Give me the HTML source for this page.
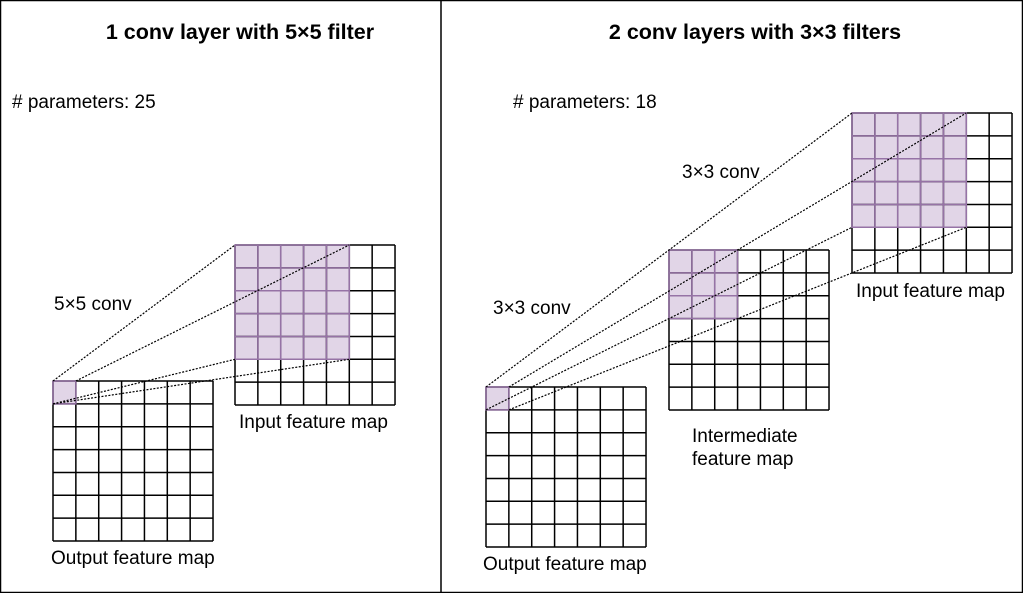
<!DOCTYPE html>
<html><head><meta charset="utf-8"><style>
html,body{margin:0;padding:0;background:#fff}
svg{display:block}
text{font-family:"Liberation Sans",Arial,sans-serif;fill:#000}
</style></head><body>
<svg id="s" width="1023" height="593" viewBox="0 0 1023 593" xmlns="http://www.w3.org/2000/svg">
<rect x="0.5" y="0.5" width="1022" height="592" fill="#fff" stroke="#000" stroke-width="1.5"/>
<line x1="441" y1="0" x2="441" y2="593" stroke="#000" stroke-width="1.5"/>
<text x="240" y="39" font-size="21.5" font-weight="bold" text-anchor="middle">1 conv layer with 5×5 filter</text>
<text x="755" y="39" font-size="21.5" font-weight="bold" text-anchor="middle">2 conv layers with 3×3 filters</text>
<text x="12" y="108" font-size="19">#&#160;parameters: 25</text>
<text x="513" y="108" font-size="19">#&#160;parameters: 18</text>
<text x="54" y="310" font-size="19">5×5 conv</text>
<text x="239" y="428" font-size="19">Input feature map</text>
<text x="51" y="564" font-size="19">Output feature map</text>
<text x="493" y="314" font-size="19">3×3 conv</text>
<text x="682" y="178" font-size="19">3×3 conv</text>
<text x="856" y="297" font-size="19">Input feature map</text>
<text x="692" y="442" font-size="19">Intermediate</text>
<text x="692" y="465" font-size="19">feature map</text>
<text x="483" y="570" font-size="19">Output feature map</text>
<g id="g"></g>
</svg>
<script>
var NS="http://www.w3.org/2000/svg",G=document.getElementById("g");
function el(t,a){var e=document.createElementNS(NS,t);for(var k in a)e.setAttribute(k,a[k]);G.appendChild(e);return e;}
var C=22.86;
function grid(x,y,p){
  if(p){el("rect",{x:x,y:y,width:p*C,height:p*C,fill:"#e1d5e7"});}
  var d="";
  for(var i=0;i<=7;i++){d+="M"+(x+i*C)+" "+y+"V"+(y+7*C);d+="M"+x+" "+(y+i*C)+"H"+(x+7*C);}
  el("path",{d:d,stroke:"#000","stroke-width":1.5,fill:"none"});
  if(p){var d2="";for(var i=1;i<p;i++){d2+="M"+(x+i*C)+" "+y+"V"+(y+p*C);d2+="M"+x+" "+(y+i*C)+"H"+(x+p*C);}
    el("path",{d:d2,stroke:"#9673a6","stroke-width":1.5,fill:"none"});
    el("path",{d:"M"+x+" "+y+"H"+(x+p*C)+"V"+(y+p*C)+"H"+x+"Z",stroke:"#9673a6","stroke-width":1.5,fill:"none"});}
}
function dl(a,b,c,d){el("line",{x1:a,y1:b,x2:c,y2:d,stroke:"#000","stroke-width":1.2,"stroke-dasharray":"2 1.5"});}
grid(53,381,1);grid(235,245,5);
grid(486,387,1);grid(669,250,3);grid(852,113,5);
dl(53,381,235,245);dl(53+C,381,235+5*C,245);dl(53,381+C,235,245+5*C);dl(53,381+C,235+5*C,245+5*C);
dl(486,387,852,113);dl(486+C,387,852+5*C,113);dl(486,387+C,852,113+5*C);dl(486+C,387+C,852+5*C,113+5*C);
</script>
</body></html>
